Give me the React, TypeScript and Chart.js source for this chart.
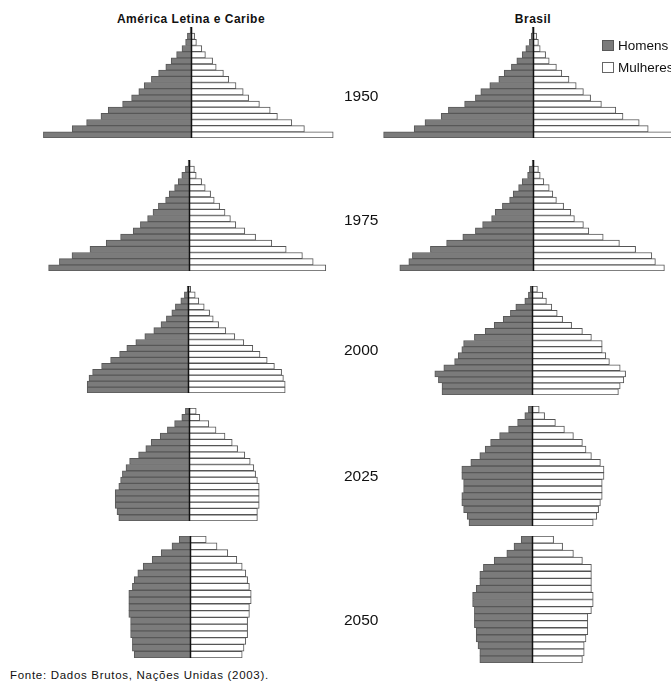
import React, { useEffect, useRef } from "react";
import { Chart, registerables } from "chart.js";

Chart.register(...registerables);

// ---------- DATA (share of total population, %) ----------
const ageGroups = [
  "0-4", "5-9", "10-14", "15-19", "20-24", "25-29", "30-34", "35-39", "40-44",
  "45-49", "50-54", "55-59", "60-64", "65-69", "70-74", "75-79", "80-84", "85+",
];
const years = ["1950", "1975", "2000", "2025", "2050"];
const regionTitles = ["América Letina e Caribe", "Brasil"];
const legendLabels = ["Homens", "Mulheres"];
const sourceNote = "Fonte: Dados Brutos, Nações Unidas (2003).";

// América Latina e Caribe
const laMen1950 = [8.2, 6.6, 5.8, 5.0, 4.6, 3.8, 3.3, 2.9, 2.6, 2.2, 1.8, 1.4, 1.1, 0.8, 0.5, 0.3, 0.2, 0.05];
const laWomen1950 = [7.9, 6.3, 5.6, 4.8, 4.4, 3.8, 3.2, 2.9, 2.5, 2.1, 1.8, 1.4, 1.2, 0.8, 0.6, 0.3, 0.2, 0.05];
const laMen1975 = [7.8, 7.2, 6.5, 5.5, 4.6, 3.8, 3.1, 2.7, 2.3, 2.0, 1.7, 1.3, 1.1, 0.8, 0.6, 0.4, 0.2, 0.05];
const laWomen1975 = [7.6, 6.9, 6.3, 5.4, 4.6, 3.7, 3.1, 2.6, 2.3, 2.0, 1.7, 1.4, 1.2, 0.9, 0.7, 0.4, 0.3, 0.05];
const laMen2000 = [5.6, 5.6, 5.5, 5.3, 4.8, 4.3, 3.8, 3.4, 2.9, 2.4, 1.9, 1.5, 1.2, 0.9, 0.7, 0.4, 0.2, 0.05];
const laWomen2000 = [5.4, 5.4, 5.3, 5.2, 4.8, 4.4, 4.0, 3.6, 3.1, 2.6, 2.1, 1.7, 1.4, 1.2, 0.9, 0.6, 0.4, 0.15];
const laMen2025 = [3.9, 4.0, 4.1, 4.1, 4.1, 3.9, 3.8, 3.7, 3.5, 3.3, 2.8, 2.4, 2.1, 1.6, 1.2, 0.8, 0.4, 0.2];
const laWomen2025 = [3.8, 3.8, 3.9, 3.9, 3.9, 3.9, 3.8, 3.7, 3.6, 3.4, 3.1, 2.7, 2.4, 2.0, 1.5, 1.1, 0.6, 0.4];
const laMen2050 = [3.1, 3.2, 3.2, 3.3, 3.3, 3.3, 3.4, 3.4, 3.4, 3.4, 3.2, 3.1, 2.9, 2.6, 2.1, 1.6, 1.0, 0.6];
const laWomen2050 = [2.9, 3.0, 3.1, 3.2, 3.2, 3.2, 3.3, 3.3, 3.4, 3.4, 3.3, 3.2, 3.1, 2.9, 2.6, 2.1, 1.5, 0.9];

// Brasil
const brMen1950 = [8.3, 6.6, 6.0, 5.1, 4.7, 3.8, 3.2, 2.9, 2.4, 1.9, 1.6, 1.2, 0.9, 0.6, 0.4, 0.2, 0.1, 0.05];
const brWomen1950 = [8.3, 6.4, 5.9, 5.0, 4.6, 3.8, 3.2, 2.8, 2.4, 2.0, 1.6, 1.3, 0.9, 0.7, 0.4, 0.3, 0.2, 0.05];
const brMen1975 = [7.4, 6.9, 6.7, 5.7, 4.8, 3.9, 3.2, 2.8, 2.3, 2.1, 1.7, 1.3, 1.1, 0.8, 0.6, 0.3, 0.2, 0.05];
const brWomen1975 = [7.3, 6.8, 6.6, 5.7, 4.8, 3.9, 3.1, 2.8, 2.3, 2.1, 1.7, 1.3, 1.1, 0.9, 0.6, 0.4, 0.3, 0.05];
const brMen2000 = [5.0, 5.0, 5.2, 5.4, 4.9, 4.3, 4.1, 3.9, 3.8, 3.2, 2.6, 2.1, 1.6, 1.2, 0.9, 0.4, 0.2, 0.1];
const brWomen2000 = [4.8, 4.9, 5.1, 5.2, 4.9, 4.3, 4.1, 3.9, 3.9, 3.3, 2.8, 2.2, 1.7, 1.4, 1.1, 0.8, 0.6, 0.3];
const brMen2025 = [3.5, 3.6, 3.8, 3.9, 3.9, 3.8, 3.8, 3.9, 3.9, 3.4, 2.9, 2.6, 2.3, 1.8, 1.3, 0.8, 0.4, 0.2];
const brWomen2025 = [3.4, 3.6, 3.7, 3.8, 3.9, 3.9, 3.9, 4.0, 4.0, 3.8, 3.3, 3.0, 2.8, 2.3, 1.8, 1.3, 0.7, 0.4];
const brMen2050 = [2.9, 2.9, 3.0, 3.1, 3.1, 3.2, 3.2, 3.2, 3.3, 3.3, 3.1, 2.9, 2.9, 2.7, 2.1, 1.4, 1.0, 0.6];
const brWomen2050 = [2.8, 2.9, 2.9, 3.0, 3.1, 3.1, 3.1, 3.3, 3.4, 3.4, 3.3, 3.3, 3.3, 3.3, 2.8, 2.3, 1.7, 1.2];

// ---------- LAYOUT / STYLE ----------
const FONT = '"Liberation Sans", Arial, Helvetica, sans-serif';
const X_MIN = -9;
const X_MAX = 9;
const PX_PER_UNIT = 18;
const MEN_FILL = "#7b7b7b";
const MEN_BORDER = "#585858";
const WOMEN_FILL = "#ffffff";
const WOMEN_BORDER = "#555555";

const panels = [
  { men: laMen1950, women: laWomen1950, center: 191, top: 27, bottom: 138 },
  { men: laMen1975, women: laWomen1975, center: 189, top: 160, bottom: 271 },
  { men: laMen2000, women: laWomen2000, center: 188, top: 286, bottom: 393 },
  { men: laMen2025, women: laWomen2025, center: 189, top: 408, bottom: 521 },
  { men: laMen2050, women: laWomen2050, center: 190, top: 536, bottom: 658 },
  { men: brMen1950, women: brWomen1950, center: 533, top: 27, bottom: 138 },
  { men: brMen1975, women: brWomen1975, center: 533, top: 160, bottom: 271 },
  { men: brMen2000, women: brWomen2000, center: 532, top: 286, bottom: 395 },
  { men: brMen2025, women: brWomen2025, center: 532, top: 406, bottom: 526 },
  { men: brMen2050, women: brWomen2050, center: 532, top: 536, bottom: 663 },
];
const yearLabelY = [96, 220, 350, 476, 620];

const centerLine = {
  id: "centerLine",
  afterDatasetsDraw(chart: any) {
    const { ctx, chartArea, scales } = chart;
    const x = Math.round(scales.x.getPixelForValue(0)) + 0.5;
    ctx.save();
    ctx.strokeStyle = "#111";
    ctx.lineWidth = 1.5;
    ctx.beginPath();
    ctx.moveTo(x, chartArea.top);
    ctx.lineTo(x, chartArea.bottom);
    ctx.stroke();
    ctx.restore();
  },
};

function Pyramid({ men, women, center, top, bottom }: any) {
  const ref = useRef<HTMLCanvasElement | null>(null);
  const width = (X_MAX - X_MIN) * PX_PER_UNIT;
  const left = Math.round(center - width / 2);
  const height = Math.round(bottom - top);
  useEffect(() => {
    if (!ref.current) return;
    const chart = new Chart(ref.current, {
      type: "bar",
      data: {
        labels: ageGroups,
        datasets: [
          {
            label: legendLabels[0],
            data: men.map((v: number) => -v),
            backgroundColor: MEN_FILL,
            borderColor: MEN_BORDER,
            borderWidth: 1,
          },
          {
            label: legendLabels[1],
            data: women,
            backgroundColor: WOMEN_FILL,
            borderColor: WOMEN_BORDER,
            borderWidth: 1,
          },
        ],
      },
      options: {
        indexAxis: "y",
        responsive: false,
        animation: false,
        layout: { padding: 0 },
        datasets: { bar: { barPercentage: 1, categoryPercentage: 1 } },
        scales: {
          x: { display: false, stacked: true, min: X_MIN, max: X_MAX },
          y: { display: false, stacked: true, reverse: true },
        },
        plugins: { legend: { display: false }, tooltip: { enabled: false } },
      } as any,
      plugins: [centerLine],
    });
    return () => chart.destroy();
  }, []);
  return (
    <canvas
      ref={ref}
      width={width}
      height={height}
      style={{ position: "absolute", left, top: Math.round(top), width, height }}
    />
  );
}

export default function App() {
  return (
    <div
      style={{
        position: "fixed",
        left: 0,
        top: 0,
        width: 671,
        height: 682,
        overflow: "hidden",
        background: "#fff",
        fontFamily: FONT,
        color: "#111",
      }}
    >
      {panels.map((p, i) => (
        <Pyramid key={i} {...p} />
      ))}
      <div style={{ position: "absolute", left: 191 - 120, width: 240, top: 11, textAlign: "center", fontWeight: "bold", fontSize: 12, letterSpacing: 0.5, lineHeight: "16px", zIndex: 2 }}>
        {regionTitles[0]}
      </div>
      <div style={{ position: "absolute", left: 533 - 60, width: 120, top: 11, textAlign: "center", fontWeight: "bold", fontSize: 12, letterSpacing: 0.5, lineHeight: "16px", zIndex: 2 }}>
        {regionTitles[1]}
      </div>
      {years.map((y, i) => (
        <div key={y} style={{ position: "absolute", left: 344, top: yearLabelY[i] - 9, fontSize: 15.5, lineHeight: "18px", zIndex: 2 }}>
          {y}
        </div>
      ))}
      <div style={{ position: "absolute", left: 602, top: 40, width: 12, height: 11, boxSizing: "border-box", background: MEN_FILL, border: "1px solid " + MEN_BORDER, zIndex: 2 }} />
      <div style={{ position: "absolute", left: 618, top: 37, fontSize: 13.5, lineHeight: "17px", whiteSpace: "nowrap", zIndex: 2 }}>
        {legendLabels[0]}
      </div>
      <div style={{ position: "absolute", left: 602, top: 62, width: 12, height: 11, boxSizing: "border-box", background: WOMEN_FILL, border: "1px solid #666", zIndex: 2 }} />
      <div style={{ position: "absolute", left: 618, top: 59, fontSize: 13.5, lineHeight: "17px", whiteSpace: "nowrap", zIndex: 2 }}>
        {legendLabels[1]}
      </div>
      <div style={{ position: "absolute", left: 10, top: 668, fontSize: 11.5, letterSpacing: 0.7, lineHeight: "14px", whiteSpace: "nowrap", zIndex: 2 }}>
        {sourceNote}
      </div>
    </div>
  );
}
